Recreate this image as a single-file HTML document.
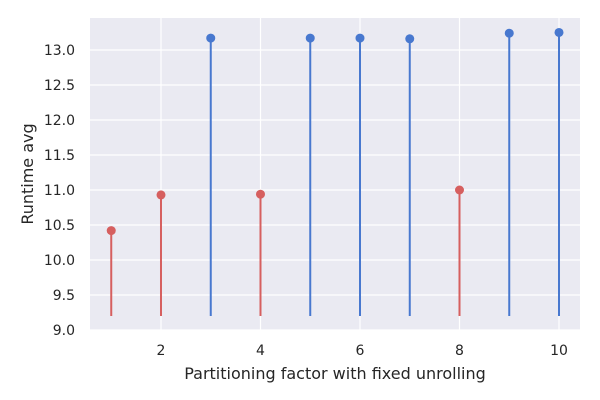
<!DOCTYPE html>
<html><head><meta charset="utf-8"><style>
html,body{margin:0;padding:0;background:#fff;}
svg{display:block;font-family:"DejaVu Sans","Liberation Sans",sans-serif;}
</style></head><body>
<svg id="chart" width="600" height="400"></svg>
<script>
const xValues=[1,2,3,4,5,6,7,8,9,10];
const runtimeValues=[10.42,10.93,13.17,10.94,13.17,13.17,13.16,11.0,13.24,13.25];
const seriesGroup=["red","red","blue","red","blue","blue","blue","red","blue","blue"];
const xTicks=[2,4,6,8,10];
const yTicks=[9.0,9.5,10.0,10.5,11.0,11.5,12.0,12.5,13.0];
const baseValue=9.2;
const colors={red:"#d65f5f",blue:"#4878cf"};
const L=90,R=580,T=18,B=330;
const xMin=0.573,xMax=10.422,yMin=9.0,yMax=13.457;
const sx=v=>L+(v-xMin)/(xMax-xMin)*(R-L);
const sy=v=>B-(v-yMin)/(yMax-yMin)*(B-T);
const NS="http://www.w3.org/2000/svg";
const svg=document.getElementById('chart');
function mk(tag,attrs,parent){const e=document.createElementNS(NS,tag);for(const k in attrs)e.setAttribute(k,attrs[k]);(parent||svg).appendChild(e);return e;}
const bg=mk('rect',{x:L,y:T,width:R-L,height:B-T,fill:'#eaeaf2'});


yTicks.forEach(t=>{
 const g=mk('line',{x1:L,x2:R,y1:sy(t),y2:sy(t),stroke:'#fff','stroke-width':1.2});
 
 
 const tx=mk('text',{x:L-15,y:sy(t)+5,'text-anchor':'end','font-size':14,fill:'#262626'});
 tx.textContent=t.toFixed(1);
 
 
});
xTicks.forEach(t=>{
 const g=mk('line',{x1:sx(t),x2:sx(t),y1:T,y2:B,stroke:'#fff','stroke-width':1.2});
 
 
 const tx=mk('text',{x:sx(t),y:B+25,'text-anchor':'middle','font-size':14,fill:'#262626'});
 tx.textContent=t;
 
 
});
xValues.forEach((x,i)=>{
 const c=colors[seriesGroup[i]];
 const s=mk('line',{x1:sx(x),x2:sx(x),y1:sy(baseValue),y2:sy(runtimeValues[i]),stroke:c,'stroke-width':2});
 
 
 const p=mk('circle',{cx:sx(x),cy:sy(runtimeValues[i]),r:4.5,fill:c});
 
 
});
const xl=mk('text',{x:(L+R)/2,y:379,'text-anchor':'middle','font-size':16,fill:'#262626'});
xl.textContent='Partitioning factor with fixed unrolling';


const yl=mk('text',{x:0,y:0,'text-anchor':'middle','font-size':16,fill:'#262626',transform:`translate(33,${(T+B)/2}) rotate(-90)`});
yl.textContent='Runtime avg';


</script>
</body></html>
